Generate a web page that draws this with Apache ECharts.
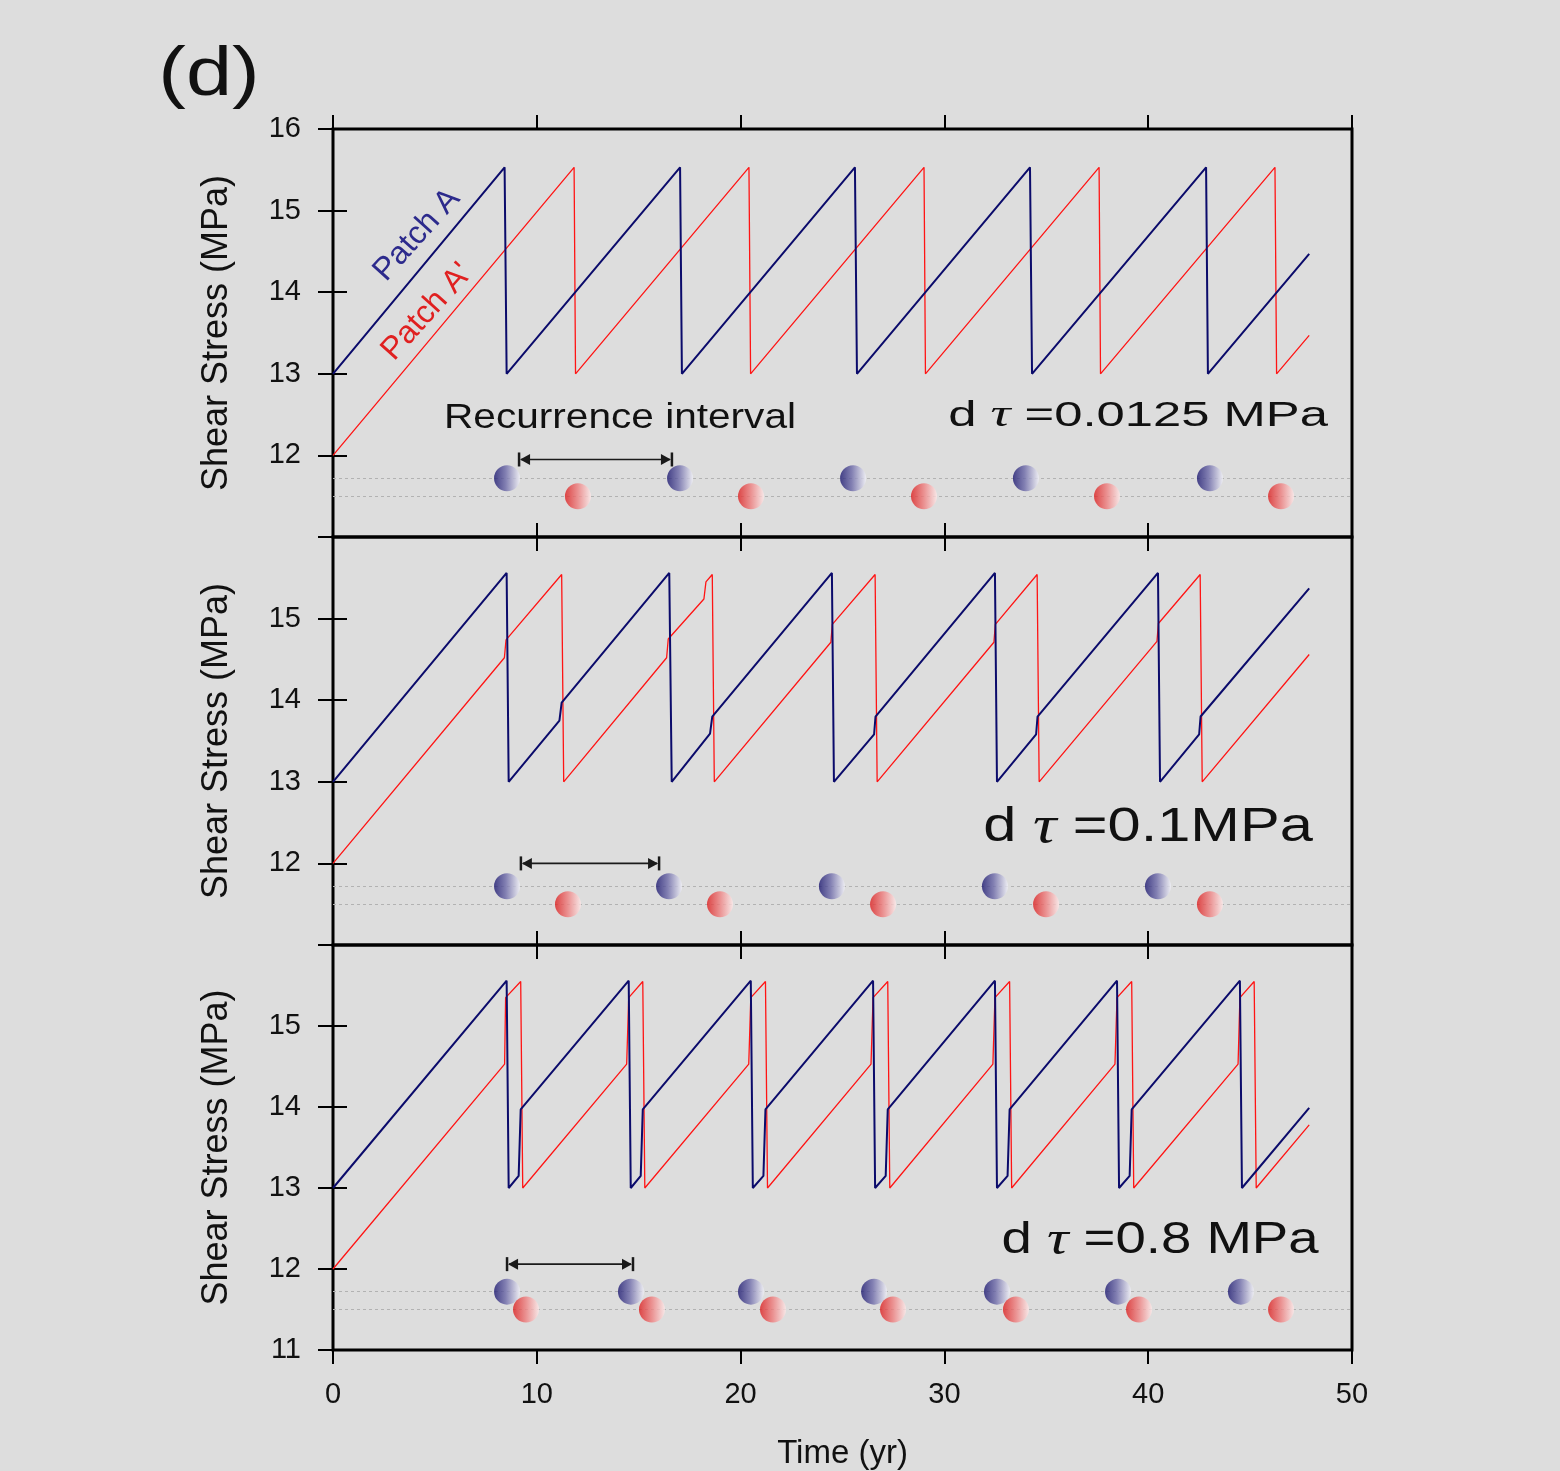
<!DOCTYPE html>
<html>
<head>
<meta charset="utf-8">
<script src="https://cdn.jsdelivr.net/npm/echarts@6/dist/echarts.min.js"></script>
<style>
html,body{margin:0;padding:0;background:#dddddd;}
#chart{width:1560px;height:1471px;}
</style>
</head>
<body>
<div id="chart"></div>
<script>
// ---- axis ranges and tick labels ----
const timeRange = [0, 50];
const timeStep = 10;
const stressRange = [11, 16];
const stressStep = 1;
const stressLabels1 = [12, 13, 14, 15, 16];
const stressLabels2 = [12, 13, 14, 15];
const stressLabels3 = [11, 12, 13, 14, 15];

// rows (MPa) on which the rupture events are marked
const rowA = 11.72;
const rowA2 = 11.5;

// ---- panel 1 : dtau = 0.0125 MPa ----
const stressA_1 = [[0,13.0],[8.42,15.53],[8.52,13.0],[17.03,15.53],[17.12,13.0],[25.61,15.53],[25.71,13.0],[34.2,15.53],[34.3,13.0],[42.84,15.53],[42.93,13.0],[47.9,14.47]];
const stressA2_1 = [[0,12.0],[11.83,15.53],[11.9,13.0],[20.41,15.53],[20.49,13.0],[29.0,15.53],[29.07,13.0],[37.59,15.53],[37.66,13.0],[46.22,15.53],[46.3,13.0],[47.9,13.47]];
const eventsA_1 = [8.54, 17.03, 25.52, 34.0, 43.03];
const eventsA2_1 = [12.02, 20.51, 29.0, 37.98, 46.52];
const interval_1 = [9.13, 16.63, 11.95];

// ---- panel 2 : dtau = 0.1 MPa ----
const stressA_2 = [[0,13.0],[8.52,15.56],[8.62,13.0],[11.11,13.75],[11.22,13.97],[16.5,15.56],[16.62,13.0],[18.5,13.59],[18.61,13.8],[24.48,15.56],[24.58,13.0],[26.55,13.58],[26.62,13.8],[32.48,15.56],[32.58,13.0],[34.5,13.58],[34.57,13.8],[40.48,15.56],[40.58,13.0],[42.5,13.58],[42.57,13.8],[47.9,15.37]];
const stressA2_2 = [[0,12.0],[8.41,14.52],[8.49,14.74],[11.22,15.54],[11.32,13.0],[16.37,14.52],[16.45,14.75],[18.2,15.24],[18.3,15.45],[18.61,15.54],[18.71,13.0],[24.43,14.71],[24.5,14.93],[26.6,15.54],[26.7,13.0],[32.43,14.71],[32.5,14.93],[34.55,15.54],[34.65,13.0],[40.43,14.72],[40.5,14.94],[42.55,15.54],[42.65,13.0],[47.9,14.56]];
const eventsA_2 = [8.54, 16.49, 24.48, 32.48, 40.48];
const eventsA2_2 = [11.53, 18.99, 26.99, 34.99, 43.03];
const interval_2 = [9.22, 16.0, 12.0];

// ---- panel 3 : dtau = 0.8 MPa ----
const stressA_3 = [[0,13.0],[8.52,15.56],[8.62,13.0],[9.11,13.15],[9.21,13.97],[14.51,15.56],[14.61,13.0],[15.1,13.15],[15.2,13.97],[20.5,15.56],[20.6,13.0],[21.12,13.15],[21.22,13.97],[26.5,15.56],[26.6,13.0],[27.12,13.15],[27.22,13.97],[32.48,15.56],[32.58,13.0],[33.1,13.15],[33.2,13.97],[38.47,15.56],[38.57,13.0],[39.09,13.15],[39.19,13.97],[44.5,15.56],[44.6,13.0],[47.9,13.99]];
const stressA2_3 = [[0,12.0],[8.42,14.53],[8.47,15.35],[9.21,15.55],[9.31,13.0],[14.41,14.53],[14.51,15.35],[15.2,15.55],[15.3,13.0],[20.4,14.53],[20.5,15.35],[21.22,15.55],[21.32,13.0],[26.4,14.53],[26.5,15.35],[27.22,15.55],[27.32,13.0],[32.38,14.53],[32.48,15.35],[33.2,15.55],[33.3,13.0],[38.37,14.53],[38.47,15.35],[39.19,15.55],[39.29,13.0],[44.41,14.53],[44.5,15.35],[45.2,15.55],[45.3,13.0],[47.9,13.78]];
const eventsA_3 = [8.54, 14.62, 20.51, 26.55, 32.58, 38.52, 44.55];
const eventsA2_3 = [9.47, 15.65, 21.59, 27.48, 33.51, 39.55, 46.52];
const interval_3 = [8.54, 14.72, 12.06];

const dtauText = ['=0.0125 MPa', '=0.1MPa', '=0.8 MPa'];

// ---- layout / style ----
const FONT = '"Liberation Sans", Arial, Helvetica, sans-serif';
const INK = '#111111';
const BLUE = '#0b0b6b';
const RED = '#ff1414';
const gridTops = [129, 537, 945];
const gridH = 408;

const panels = [
  {a: stressA_1, a2: stressA2_1, evA: eventsA_1, evA2: eventsA2_1, arrow: interval_1, labels: stressLabels1},
  {a: stressA_2, a2: stressA2_2, evA: eventsA_2, evA2: eventsA2_2, arrow: interval_2, labels: stressLabels2},
  {a: stressA_3, a2: stressA2_3, evA: eventsA_3, evA2: eventsA2_3, arrow: interval_3, labels: stressLabels3}
];

const blueBall = {type:'linear', x:0, y:0, x2:1, y2:0, colorStops:[
  {offset:0, color:'#1c1870'}, {offset:0.45, color:'#6c69a8'}, {offset:1, color:'#f0f0f7'}]};
const redBall = {type:'linear', x:0, y:0, x2:1, y2:0, colorStops:[
  {offset:0, color:'#dc2020'}, {offset:0.5, color:'#ee7f7f'}, {offset:1, color:'#fde8e8'}]};

const tickStyle = {color:'#000', width:2};

const grids = [], xAxes = [], yAxes = [], series = [];

panels.forEach((p, i) => {
  grids.push({left:333, width:1019, top:gridTops[i], height:gridH,
    show:true, borderColor:'#000', borderWidth:3, backgroundColor:'transparent', containLabel:false});
});

// bottom time axes (index 0..2)
panels.forEach((p, i) => {
  xAxes.push({
    gridIndex:i, type:'value', position:'bottom', min:timeRange[0], max:timeRange[1], interval:timeStep,
    axisLine:{show:false},
    axisTick:{show:true, inside:false, length:14, lineStyle:tickStyle},
    axisLabel:{show:i === 2, fontSize:29, color:INK, fontFamily:FONT, margin:30},
    splitLine:{show:false},
    name: i === 2 ? 'Time (yr)' : '', nameLocation:'middle', nameGap:87,
    nameTextStyle:{fontSize:33, color:INK, fontFamily:FONT}
  });
});
// top time axes (index 3..5), ticks only
panels.forEach((p, i) => {
  xAxes.push({
    gridIndex:i, type:'value', position:'top', min:timeRange[0], max:timeRange[1], interval:timeStep,
    axisLine:{show:false},
    axisTick:{show:true, inside:false, length:14, lineStyle:tickStyle},
    axisLabel:{show:false}, splitLine:{show:false}
  });
});
// left stress axes (index 0..2)
panels.forEach((p, i) => {
  yAxes.push({
    gridIndex:i, type:'value', position:'left', min:stressRange[0], max:stressRange[1], interval:stressStep,
    axisLine:{show:false},
    axisTick:{show:true, inside:false, length:15, lineStyle:tickStyle},
    axisLabel:{fontSize:29, color:INK, fontFamily:FONT, margin:32,
      formatter: v => (p.labels.indexOf(v) >= 0 ? String(v) : '')},
    splitLine:{show:false},
    name:'Shear Stress (MPa)', nameLocation:'middle', nameRotate:90, nameGap:98,
    nameTextStyle:{fontSize:36, color:INK, fontFamily:FONT}
  });
});
// right stress axes (index 3..5), ticks only
panels.forEach((p, i) => {
  yAxes.push({
    gridIndex:i, type:'value', position:'right', min:stressRange[0], max:stressRange[1], interval:stressStep,
    axisLine:{show:false},
    axisTick:{show:true, inside:false, length:14, lineStyle:tickStyle},
    axisLabel:{show:false}, splitLine:{show:false}
  });
});

function intervalArrow(params, api) {
  const y = api.value(2);
  const p1 = api.coord([api.value(0), y]);
  const p2 = api.coord([api.value(1), y]);
  const c = '#1a1a1a', head = 10, half = 5.5, bar = 7;
  return {type:'group', children:[
    {type:'line', shape:{x1:p1[0] + 2, y1:p1[1], x2:p2[0] - 2, y2:p2[1]}, style:{stroke:c, lineWidth:1.6}},
    {type:'polygon', shape:{points:[[p1[0] + 1, p1[1]], [p1[0] + 1 + head, p1[1] - half], [p1[0] + 1 + head, p1[1] + half]]}, style:{fill:c}},
    {type:'polygon', shape:{points:[[p2[0] - 1, p2[1]], [p2[0] - 1 - head, p2[1] - half], [p2[0] - 1 - head, p2[1] + half]]}, style:{fill:c}},
    {type:'line', shape:{x1:p1[0], y1:p1[1] - bar, x2:p1[0], y2:p1[1] + bar}, style:{stroke:c, lineWidth:2.5}},
    {type:'line', shape:{x1:p2[0], y1:p2[1] - bar, x2:p2[0], y2:p2[1] + bar}, style:{stroke:c, lineWidth:2.5}}
  ]};
}

panels.forEach((p, i) => {
  series.push({
    name:"Patch A'", type:'line', xAxisIndex:i, yAxisIndex:i, data:p.a2,
    showSymbol:false, symbol:'none', lineStyle:{color:RED, width:1.3}, z:2, silent:true,
    markLine:{silent:true, symbol:['none','none'], label:{show:false},
      lineStyle:{color:'#b2b2b2', width:1, type:[3,3]},
      data:[{yAxis:rowA}, {yAxis:rowA2}]}
  });
  series.push({
    name:'Patch A', type:'line', xAxisIndex:i, yAxisIndex:i, data:p.a,
    showSymbol:false, symbol:'none', lineStyle:{color:BLUE, width:2}, z:3, silent:true
  });
  series.push({
    type:'scatter', xAxisIndex:i, yAxisIndex:i, data:p.evA.map(t => [t, rowA]),
    symbol:'circle', symbolSize:26, itemStyle:{color:blueBall}, z:5, silent:true
  });
  series.push({
    type:'scatter', xAxisIndex:i, yAxisIndex:i, data:p.evA2.map(t => [t, rowA2]),
    symbol:'circle', symbolSize:26, itemStyle:{color:redBall}, z:6, silent:true
  });
  series.push({
    type:'custom', xAxisIndex:i, yAxisIndex:i, data:[p.arrow],
    encode:{x:[0,1], y:2}, renderItem:intervalArrow, z:7, silent:true
  });
});

function dtauLabel(x, y, size, sx, txt) {
  return {type:'text', x:x, y:y, scaleX:sx, silent:true, z:20,
    style:{text:'d {t|τ} ' + txt, fill:INK, font:size + 'px ' + FONT, align:'center', verticalAlign:'middle',
      rich:{t:{fontFamily:'"Liberation Serif", "DejaVu Serif", serif', fontStyle:'italic', fontSize:size * 1.1, fill:INK}}}};
}

const graphics = [
  {type:'text', x:209, y:76, scaleX:1.22, silent:true,
    style:{text:'(d)', fill:INK, font:'68px ' + FONT, align:'center', verticalAlign:'middle'}},
  {type:'text', x:620, y:418, scaleX:1.16, silent:true,
    style:{text:'Recurrence interval', fill:INK, font:'35px ' + FONT, align:'center', verticalAlign:'middle'}},
  {type:'text', x:417, y:235, rotation:48 * Math.PI / 180, silent:true,
    style:{text:'Patch A', fill:'#2c2a8c', font:'32px ' + FONT, align:'center', verticalAlign:'middle'}},
  {type:'text', x:427, y:312, rotation:48 * Math.PI / 180, silent:true,
    style:{text:"Patch A'", fill:'#e02020', font:'32px ' + FONT, align:'center', verticalAlign:'middle'}},
  dtauLabel(1138, 416, 35, 1.45, dtauText[0]),
  dtauLabel(1148, 828, 48, 1.24, dtauText[1]),
  dtauLabel(1160, 1241, 44, 1.24, dtauText[2])
];

const chart = echarts.init(document.getElementById('chart'), null, {renderer:'canvas', width:1560, height:1471});
chart.setOption({
  animation:false,
  backgroundColor:'#dddddd',
  textStyle:{fontFamily:FONT},
  grid:grids, xAxis:xAxes, yAxis:yAxes, series:series, graphic:graphics
});
</script>
</body>
</html>
